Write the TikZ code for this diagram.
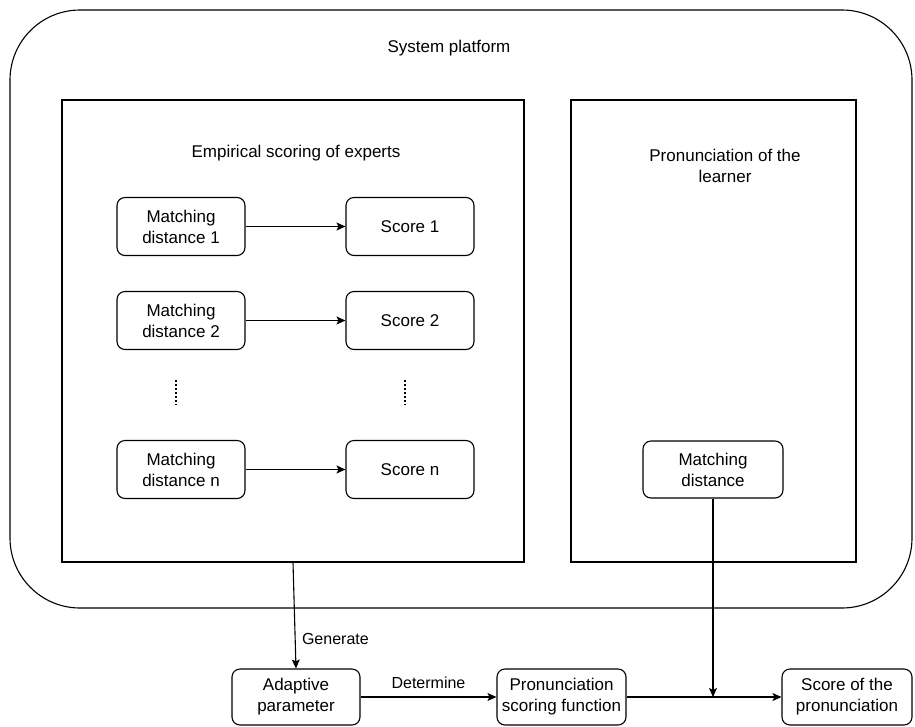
\documentclass[tikz,border=0pt]{standalone}
\usepackage{fontspec}
\setmainfont{Liberation Sans}
\usetikzlibrary{arrows.meta}
\tikzset{
  box/.style={draw, rounded corners=8pt, line width=1.1pt, minimum width=128pt, minimum height=58pt,
    inner sep=2pt, align=center, font=\fontsize{17}{21}\selectfont},
  frame/.style={draw, line width=1.1pt},
  flow/.style={-{Stealth[length=9pt,width=8pt,inset=2pt]}, line width=1.1pt},
  lbl/.style={font=\fontsize{16}{20}\selectfont},
  ttl/.style={align=center, font=\fontsize{17}{21}\selectfont},
  vdots/.style={line width=2pt, dash pattern=on 1.6pt off 2.4pt},
}
\begin{document}
\begin{tikzpicture}[x=1pt, y=-1pt]
		%%%%% START %%%%%
		\useasboundingbox (0,0) rectangle (915,726);
		
		% platform and the two panels
		\draw[frame, rounded corners=70pt] (10,10) rectangle (912,608);
		\node[ttl] (platform) at (449,48) {System platform};
		\node[frame, minimum width=462pt, minimum height=462pt] (experts) at (293,331) {};
		\node[frame, minimum width=285pt, minimum height=462pt] (learner) at (713.5,331) {};
		\node[ttl] (expertstitle) at (296,153) {Empirical scoring of experts};
		\node[ttl] (learnertitle) at (725,166) {Pronunciation of the\\learner};
		
		% expert rows
		\node[box] (md1) at (181,226.5) {Matching\\distance 1};
		\node[box] (sc1) at (410,226.5) {Score 1};
		\node[box] (md2) at (181,320.5) {Matching\\distance 2};
		\node[box] (sc2) at (410,320.5) {Score 2};
		\node[box] (mdn) at (181,469.5) {Matching\\distance n};
		\node[box] (scn) at (410,469.5) {Score n};
		\draw[vdots] (176,380) -- (176,405);
		\draw[vdots] (405,380) -- (405,405);
		
		\draw[flow] (md1) -- (sc1);
		\draw[flow] (md2) -- (sc2);
		\draw[flow] (mdn) -- (scn);
		
		% learner
		\node[box, minimum width=140pt, minimum height=57pt] (mdl) at (713,469.5) {Matching\\distance};
		
		% bottom row
		\node[box, minimum height=56pt] (adapt) at (296,697) {Adaptive\\parameter};
		\node[box, minimum width=129pt, minimum height=56pt] (func) at (561.5,697) {Pronunciation\\scoring function};
		\node[box, minimum width=130pt, minimum height=56pt] (final) at (847,697) {Score of the\\pronunciation};
		
		\draw[flow] (experts.south) -- node[lbl, right, pos=0.72, xshift=3pt] {Generate} (adapt.north);
		\draw[flow] (adapt) -- node[lbl, above, yshift=4pt] {Determine} (func);
		\draw[flow] (func) -- (final);
		\coordinate (join) at (mdl.south |- func.east);
		\draw[flow] (mdl.south) -- (join);
		
		%%%%% END %%%%%
\end{tikzpicture}
\end{document}
